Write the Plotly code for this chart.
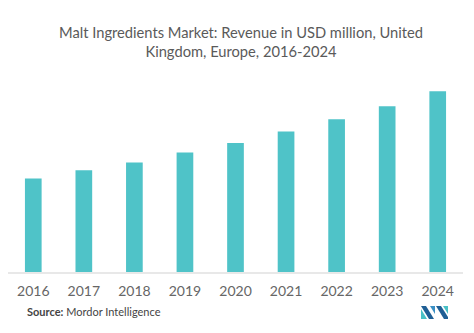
import plotly.graph_objects as go

# Revenue, USD million (United Kingdom malt ingredients market)
years = ["2016", "2017", "2018", "2019", "2020", "2021", "2022", "2023", "2024"]
revenue = [93.4, 101.7, 109.4, 119.4, 129.0, 140.4, 152.7, 165.7, 180.7]

BAR_COLOR = "#4fc3c8"
TEXT_GRAY = "#5a5a5a"

W, H = 474, 333
L, R, T, B = 8, 11, 82, 61
PLOT_W = W - L - R
PLOT_H = H - T - B


def px_to_paper(x, y):
    """Convert page pixel coordinates into paper coordinates."""
    return (x - L) / PLOT_W, (H - B - y) / PLOT_H


def poly_path(points):
    pts = [px_to_paper(x, y) for x, y in points]
    return "M " + " L ".join(f"{a:.4f},{b:.4f}" for a, b in pts) + " Z"


fig = go.Figure(
    go.Bar(
        x=years,
        y=revenue,
        marker=dict(color=BAR_COLOR, line=dict(width=0)),
        width=0.33,
        hoverinfo="x+y",
    )
)

# Mordor Intelligence mark, bottom right
logo_parts = [
    ([(421, 306), (426, 306), (434, 319), (429, 319)], "#1f5f95"),
    ([(421, 309), (427, 319), (421, 319)], "#49c0c6"),
    ([(430, 306), (435, 306), (435, 314)], "#3a8fc4"),
    ([(436, 306), (441, 306), (448, 317), (448, 319), (444, 319)], "#1f5f95"),
    ([(443, 306), (448, 306), (448, 314)], "#49c0c6"),
]
shapes = [
    dict(type="path", xref="paper", yref="paper", path=poly_path(p),
         fillcolor=c, line=dict(width=0), layer="above")
    for p, c in logo_parts
]

fig.update_layout(
    width=W,
    height=H,
    margin=dict(l=L, r=R, t=T, b=B),
    paper_bgcolor="white",
    plot_bgcolor="white",
    showlegend=False,
    font=dict(family="Lato", color=TEXT_GRAY),
    title=dict(
        text="Malt Ingredients Market: Revenue in USD million, United<br>Kingdom, Europe, 2016-2024",
        x=241 / W,
        xanchor="center",
        y=1 - 37.5 / H,
        yanchor="middle",
        font=dict(family="Lato", size=14.7, color=TEXT_GRAY),
    ),
    xaxis=dict(
        type="category",
        range=[-0.5, 8.5],
        showgrid=False,
        showline=True,
        linecolor="#e8e8e8",
        linewidth=1.5,
        ticks="",
        ticklabelstandoff=5,
        tickfont=dict(family="Lato", size=14, color="#666666"),
        fixedrange=True,
    ),
    yaxis=dict(
        range=[0, PLOT_H],
        visible=False,
        fixedrange=True,
    ),
    shapes=shapes,
    annotations=[
        dict(
            text="<b>Source:</b> Mordor Intelligence",
            xref="paper", yref="paper",
            x=px_to_paper(25, 0)[0], y=px_to_paper(0, 311)[1],
            xanchor="left", yanchor="middle",
            showarrow=False,
            font=dict(family="Lato", size=11, color="#444444"),
        )
    ],
)

fig.write_html("out.html")
